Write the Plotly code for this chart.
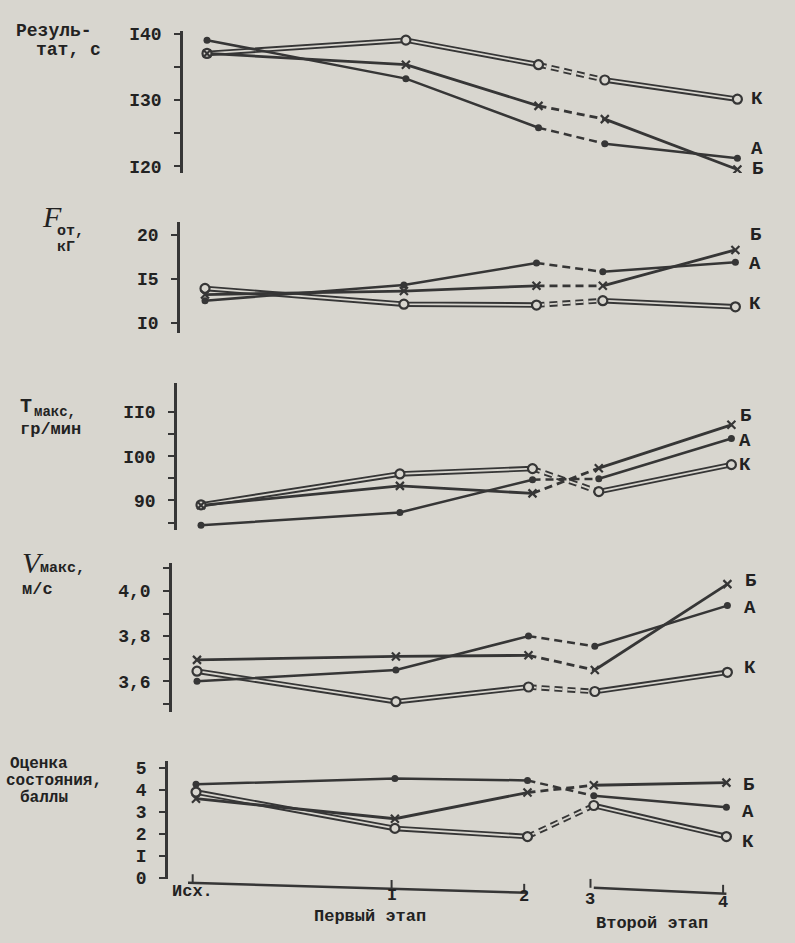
import plotly.graph_objects as go

# ---------------- data ----------------
X_POS = [0, 3, 5, 6, 8]
X_LABELS = ["Исх.", "I", "2", "3", "4"]
STAGE_LABELS = ["Первый этап", "Второй этап"]
SERIES = ["К", "А", "Б"]

result_K = [137.0, 139.0, 135.3, 133.0, 130.1]
result_A = [139.0, 133.2, 125.8, 123.4, 121.2]
result_B = [137.0, 135.3, 129.1, 127.1, 119.5]

force_K = [13.9, 12.1, 12.0, 12.5, 11.8]
force_A = [12.5, 14.3, 16.8, 15.8, 16.9]
force_B = [13.2, 13.6, 14.2, 14.2, 18.3]

tempo_K = [89.0, 96.0, 97.2, 92.0, 98.1]
tempo_A = [84.4, 87.3, 94.7, 94.9, 104.0]
tempo_B = [88.9, 93.3, 91.6, 97.3, 107.1]

speed_K = [3.645, 3.51, 3.575, 3.555, 3.64]
speed_A = [3.60, 3.65, 3.80, 3.755, 3.935]
speed_B = [3.695, 3.71, 3.715, 3.65, 4.03]

state_K = [3.9, 2.25, 1.88, 3.29, 1.88]
state_A = [4.25, 4.52, 4.43, 3.73, 3.21]
state_B = [3.6, 2.69, 3.88, 4.21, 4.33]

result_ticks = [140, 135, 130, 125, 120]
result_ticktext = ["I40", "", "I30", "", "I20"]
force_ticks = [20, 15, 10]
force_ticktext = ["20", "I5", "I0"]
tempo_ticks = [110, 105, 100, 95, 90, 85]
tempo_ticktext = ["II0", "", "I00", "", "90", ""]
speed_ticks = [4.1, 4.0, 3.9, 3.8, 3.7, 3.6, 3.5]
speed_ticktext = ["", "4,0", "", "3,8", "", "3,6", ""]
state_ticks = [5, 4, 3, 2, 1, 0]
state_ticktext = ["5", "4", "3", "2", "I", "0"]

# ---------------- style ----------------
W, H = 795, 943
PAPER = "#d8d6cf"
INK = "#363636"
TXT = "#222222"
FONT = "Liberation Mono"
UNIT = 66.3  # pixels per x unit


def pxx(x):
    return x / W


def pxy(y):
    return 1 - y / H


panels = [
    dict(vals=(result_K, result_A, result_B), axis_px=183, origin_px=207, top=25, bottom=170,
         cal=((140, 28), (120, 163)), tv=result_ticks, tt=result_ticktext,
         lab_x=757, lab_y={"К": 95, "А": 145, "Б": 166}),
    dict(vals=(force_K, force_A, force_B), axis_px=180, origin_px=205, top=220, bottom=333,
         cal=((20, 233), (10, 322)), tv=force_ticks, tt=force_ticktext,
         lab_x=755, lab_y={"К": 303, "А": 262, "Б": 233}),
    dict(vals=(tempo_K, tempo_A, tempo_B), axis_px=177, origin_px=201, top=383, bottom=533,
         cal=((110, 413), (90, 503)), tv=tempo_ticks, tt=tempo_ticktext,
         lab_x=745, lab_y={"К": 467, "А": 443, "Б": 417}),
    dict(vals=(speed_K, speed_A, speed_B), axis_px=172, origin_px=197, top=567, bottom=718,
         cal=((4.0, 595), (3.6, 687)), tv=speed_ticks, tt=speed_ticktext,
         lab_x=750, lab_y={"К": 673, "А": 612, "Б": 585}),
    dict(vals=(state_K, state_A, state_B), axis_px=168, origin_px=196, top=768, bottom=888,
         cal=((5, 775), (0, 887)), tv=state_ticks, tt=state_ticktext,
         lab_x=748, lab_y={"К": 850, "А": 820, "Б": 792}),
]

fig = go.Figure()
layout = dict(
    width=W, height=H, margin=dict(l=0, r=0, t=0, b=0),
    paper_bgcolor=PAPER, plot_bgcolor=PAPER, showlegend=False,
    font=dict(family=FONT, size=18, color=TXT),
)
annotations = []
shapes = []

segments = [(0, 3, "solid"), (2, 4, "8px,5px"), (3, 5, "solid")]

for i, p in enumerate(panels, start=1):
    xa = "x" if i == 1 else f"x{i}"
    ya = "y" if i == 1 else f"y{i}"
    (v1, p1), (v2, p2) = p["cal"]
    per_px = (v1 - v2) / (p2 - p1)
    y_top = v1 + (p1 - p["top"]) * per_px
    y_bot = v2 - (p["bottom"] - p2) * per_px
    x_lo = (p["axis_px"] - p["origin_px"]) / UNIT
    x_hi = (W - p["origin_px"]) / UNIT

    layout[f"xaxis{i}"] = dict(domain=[pxx(p["axis_px"]), 1], range=[x_lo, x_hi],
                               anchor=ya, visible=False, fixedrange=True)
    layout[f"yaxis{i}"] = dict(domain=[pxy(p["bottom"]), pxy(p["top"])], range=[y_bot, y_top],
                               anchor=xa, showgrid=False, zeroline=False, fixedrange=True,
                               showline=True, linecolor=INK, linewidth=2.5,
                               ticks="outside", ticklen=6, tickwidth=2, tickcolor=INK,
                               tickvals=p["tv"], ticktext=[f"<b>{t}</b>" if t else "" for t in p["tt"]],
                               ticklabelstandoff=9,
                               tickfont=dict(family=FONT, size=18, color=TXT))

    vK, vA, vB = p["vals"]
    # lines
    for a, b, dash in segments:
        xs = X_POS[a:b]
        # К : double line
        fig.add_trace(go.Scatter(x=xs, y=vK[a:b], mode="lines", xaxis=xa, yaxis=ya,
                                 line=dict(color=INK, width=5.5, dash=dash), hoverinfo="skip"))
        fig.add_trace(go.Scatter(x=xs, y=vK[a:b], mode="lines", xaxis=xa, yaxis=ya,
                                 line=dict(color=PAPER, width=1.8, dash=dash), hoverinfo="skip"))
        fig.add_trace(go.Scatter(x=xs, y=vA[a:b], mode="lines", xaxis=xa, yaxis=ya,
                                 line=dict(color=INK, width=2.5, dash=dash), hoverinfo="skip"))
        fig.add_trace(go.Scatter(x=xs, y=vB[a:b], mode="lines", xaxis=xa, yaxis=ya,
                                 line=dict(color=INK, width=2.8, dash=dash), hoverinfo="skip"))
    # markers
    fig.add_trace(go.Scatter(x=X_POS, y=vK, mode="markers", xaxis=xa, yaxis=ya, name="К",
                             marker=dict(symbol="circle", size=9, color=PAPER,
                                         line=dict(color=INK, width=2.2))))
    fig.add_trace(go.Scatter(x=X_POS, y=vA, mode="markers", xaxis=xa, yaxis=ya, name="А",
                             marker=dict(symbol="circle", size=7, color=INK)))
    fig.add_trace(go.Scatter(x=X_POS, y=vB, mode="markers", xaxis=xa, yaxis=ya, name="Б",
                             marker=dict(symbol="x-thin", size=8,
                                         line=dict(color=INK, width=2.2))))
    # series labels at right
    for s in SERIES:
        annotations.append(dict(x=pxx(p["lab_x"]), y=pxy(p["lab_y"][s]), xref="paper", yref="paper",
                                text=f"<b>{s}</b>", showarrow=False, xanchor="center", yanchor="middle",
                                font=dict(family=FONT, size=19, color=TXT)))


def note(text, x, y, size=18, family=FONT, xanchor="left", italic=False, bold=True):
    t = f"<b>{text}</b>" if bold else text
    if italic:
        t = f"<i>{t}</i>"
    annotations.append(dict(x=pxx(x), y=pxy(y), xref="paper", yref="paper", text=t,
                            showarrow=False, xanchor=xanchor, yanchor="middle",
                            font=dict(family=family, size=size, color=TXT)))


# axis titles
note("Резуль-", 14, 25)
note("тат, с", 34, 45)

note("F", 40, 214, size=30, family="Liberation Serif", italic=True, bold=False)
note("от,", 55, 229, size=15)
note("кГ", 55, 246, size=15)

note("T", 18, 407, size=20)
note("макс,", 32, 413, size=14)
note("гр/мин", 18, 431, size=17)

note("V", 20, 566, size=30, family="Liberation Serif", italic=True, bold=False)
note("макс,", 38, 572, size=15)
note("м/с", 20, 594, size=17)

note("Оценка", 8, 771, size=16)
note("состояния,", 4, 788, size=16)
note("баллы", 18, 806, size=16)

# bottom (broken) time axis, drawn in panel 5's x coordinates
xa5 = "x5"
seg_defs = [((-0.12, 892), (5, 902), X_POS[0:3]), ((6, 897), (8, 903), X_POS[3:5])]
for (xa_, ya_), (xb_, yb_), ticks in seg_defs:
    shapes.append(dict(type="line", xref=xa5, yref="paper", x0=xa_, x1=xb_,
                       y0=pxy(ya_), y1=pxy(yb_), line=dict(color=INK, width=2.5)))
    for t in ticks:
        yy = ya_ + (yb_ - ya_) * (t - xa_) / (xb_ - xa_)
        shapes.append(dict(type="line", xref=xa5, yref="paper", x0=t - 0.05, x1=t - 0.05,
                           y0=pxy(yy), y1=pxy(yy - 9), line=dict(color=INK, width=2)))

label_y_px = [901, 905, 906, 909, 912]
for xv, lab, yy in zip(X_POS, X_LABELS, label_y_px):
    annotations.append(dict(x=xv - 0.05, y=pxy(yy), xref=xa5, yref="paper", text=f"<b>{lab}</b>",
                            showarrow=False, xanchor="center", yanchor="middle",
                            font=dict(family=FONT, size=17, color=TXT)))

note(STAGE_LABELS[0], 370, 926, size=17, xanchor="center")
note(STAGE_LABELS[1], 652, 933, size=17, xanchor="center")

layout["annotations"] = annotations
layout["shapes"] = shapes
fig.update_layout(**layout)

PAGE_CSS = ("var s=document.createElement('style');"
            "s.textContent='html,body{margin:0!important;padding:0!important;overflow:hidden!important;"
            "width:795px!important;height:943px!important;background:#d8d6cf;}"
            " body>div{width:795px;height:943px;overflow:hidden;}';"
            "document.head.appendChild(s);")

fig.write_html("out.html", config={"displayModeBar": False, "staticPlot": False},
               post_script=PAGE_CSS)
